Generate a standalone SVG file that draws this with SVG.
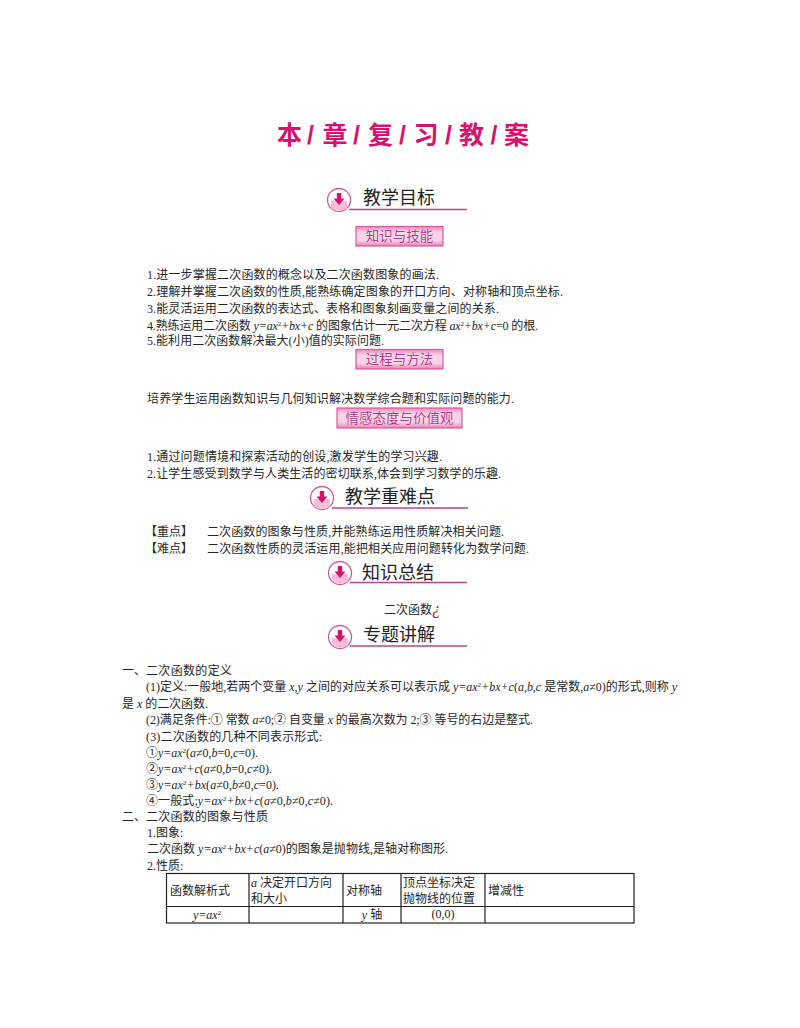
<svg xmlns="http://www.w3.org/2000/svg" xmlns:xlink="http://www.w3.org/1999/xlink" width="800" height="1028" viewBox="0 0 800 1028">
<style>
text{font-family:"Liberation Serif","Noto Sans CJK SC",serif;font-size:12px;fill:#262626}
.m{font-style:italic}
.title{font-family:"Liberation Sans","Noto Sans CJK SC",sans-serif;font-size:25px;font-weight:700;fill:#d6126f}
.head{font-family:"Noto Sans CJK SC",sans-serif;font-size:18px;fill:#222}
.tag{font-family:"Noto Sans CJK SC",sans-serif;font-size:13.500px;fill:#b8368a;text-anchor:middle;stroke:#fff;stroke-width:.4px;paint-order:stroke}
.tagbox{fill:url(#tagfill);stroke:#d85aa0;stroke-width:1.200}
.rule{stroke:#c2408c;stroke-width:1.500;fill:none}
.cell{stroke:#222;stroke-width:1.200;fill:none}
.c{text-anchor:middle}
.red{fill:#c0202a;font-size:17px;font-style:italic}
</style>
<defs>
<linearGradient id="tagfill" x1="0" y1="0" x2="0" y2="1">
<stop offset="0" stop-color="#f088bc"/><stop offset=".3" stop-color="#fbd3e6"/><stop offset=".7" stop-color="#fbd3e6"/><stop offset="1" stop-color="#ec80b6"/>
</linearGradient>
<g id="badge">
<circle r="11.500" fill="#fff" stroke="#d05a9c" stroke-width="1.300"/>
<path d="M-8 1H8V8.500Q0 12 -8 8.500Z" fill="#f7bcd8"/>
<path d="M-2.200 -7H2.200V-1.500H5.500L0 5L-5.500 -1.500H-2.200Z" fill="#d6126f"/>
</g>
</defs>

<g id="title">
<text class="title" x="277" y="144">本</text><text class="title" x="307" y="144">/</text>
<text class="title" x="322.500" y="144">章</text><text class="title" x="353" y="144">/</text>
<text class="title" x="368" y="144">复</text><text class="title" x="399" y="144">/</text>
<text class="title" x="413.500" y="144">习</text><text class="title" x="445" y="144">/</text>
<text class="title" x="459" y="144">教</text><text class="title" x="490.500" y="144">/</text>
<text class="title" x="504" y="144">案</text>
</g>

<g id="connectors">
<path class="rule" d="M349 209.500H467"/>
<path class="rule" d="M332 508H468"/>
<path class="rule" d="M350 582.500H467"/>
<path class="rule" d="M350 646H467"/>
</g>

<g id="head-goals"><use xlink:href="#badge" href="#badge" x="339" y="200"/><text class="head" x="363" y="204">教学目标</text></g>
<g id="head-key"><use xlink:href="#badge" href="#badge" x="322" y="498"/><text class="head" x="345" y="503">教学重难点</text></g>
<g id="head-summary"><use xlink:href="#badge" href="#badge" x="340" y="573"/><text class="head" x="362" y="579">知识总结</text></g>
<g id="head-topics"><use xlink:href="#badge" href="#badge" x="340" y="637"/><text class="head" x="363" y="641">专题讲解</text></g>

<g id="tag-knowledge"><rect class="tagbox" x="356" y="226.500" width="87" height="19.500"/><text class="tag" x="399.500" y="241">知识与技能</text></g>
<g id="tag-process"><rect class="tagbox" x="356" y="349.500" width="87" height="19.500"/><text class="tag" x="399.500" y="364">过程与方法</text></g>
<g id="tag-attitude"><rect class="tagbox" x="337" y="408" width="125" height="20"/><text class="tag" x="399.500" y="423">情感态度与价值观</text></g>

<g id="goals">
<text x="147" y="279" textLength="292">1.进一步掌握二次函数的概念以及二次函数图象的画法.</text>
<text x="147" y="296" textLength="416">2.理解并掌握二次函数的性质,能熟练确定图象的开口方向、对称轴和顶点坐标.</text>
<text x="147" y="313" textLength="352">3.能灵活运用二次函数的表达式、表格和图象刻画变量之间的关系.</text>
<text x="147" y="330" textLength="391">4.熟练运用二次函数 <tspan class="m">y=ax</tspan><tspan font-size="7" dy="-4">2</tspan><tspan class="m" dy="4">+bx+c</tspan> 的图象估计一元二次方程 <tspan class="m">ax</tspan><tspan font-size="7" dy="-4">2</tspan><tspan class="m" dy="4">+bx+c</tspan>=0 的根.</text>
<text x="147" y="345" textLength="237">5.能利用二次函数解决最大(小)值的实际问题.</text>
<text x="147" y="403" textLength="367">培养学生运用函数知识与几何知识解决数学综合题和实际问题的能力.</text>
<text x="147" y="461" textLength="295">1.通过问题情境和探索活动的创设,激发学生的学习兴趣.</text>
<text x="147" y="478" textLength="354">2.让学生感受到数学与人类生活的密切联系,体会到学习数学的乐趣.</text>
</g>

<g id="key">
<text x="145" y="536" textLength="48">【重点】</text><text x="207" y="536" textLength="297">二次函数的图象与性质,并能熟练运用性质解决相关问题.</text>
<text x="145" y="553" textLength="48">【难点】</text><text x="207" y="553" textLength="322">二次函数性质的灵活运用,能把相关应用问题转化为数学问题.</text>
</g>

<g id="summary"><text x="384" y="614">二次函数<tspan class="red">¿</tspan></text></g>

<g id="topics">
<text x="122" y="675">一、</text><text x="146" y="675" textLength="86">二次函数的定义</text>
<text x="146" y="691" textLength="531">(1)定义:一般地,若两个变量 <tspan class="m">x,y</tspan> 之间的对应关系可以表示成 <tspan class="m">y=ax</tspan><tspan font-size="7" dy="-4">2</tspan><tspan class="m" dy="4">+bx+c</tspan>(<tspan class="m">a,b,c</tspan> 是常数,<tspan class="m">a</tspan>≠0)的形式,则称 <tspan class="m">y</tspan></text>
<text x="122" y="708" textLength="86">是 <tspan class="m">x</tspan> 的二次函数.</text>
<text x="146" y="724" textLength="387">(2)满足条件:① 常数 <tspan class="m">a</tspan>≠0;② 自变量 <tspan class="m">x</tspan> 的最高次数为 2;③ 等号的右边是整式.</text>
<text x="146" y="741" textLength="176">(3)二次函数的几种不同表示形式:</text>
<text x="146" y="757" textLength="112">①<tspan class="m">y=ax</tspan><tspan font-size="7" dy="-4">2</tspan><tspan dy="4">(</tspan><tspan class="m">a</tspan>≠0,<tspan class="m">b</tspan>=0,<tspan class="m">c</tspan>=0).</text>
<text x="146" y="773" textLength="126">②<tspan class="m">y=ax</tspan><tspan font-size="7" dy="-4">2</tspan><tspan class="m" dy="4">+c</tspan>(<tspan class="m">a</tspan>≠0,<tspan class="m">b</tspan>=0,<tspan class="m">c</tspan>≠0).</text>
<text x="146" y="789" textLength="133">③<tspan class="m">y=ax</tspan><tspan font-size="7" dy="-4">2</tspan><tspan class="m" dy="4">+bx</tspan>(<tspan class="m">a</tspan>≠0,<tspan class="m">b</tspan>≠0,<tspan class="m">c</tspan>=0).</text>
<text x="146" y="805" textLength="187">④一般式;<tspan class="m">y=ax</tspan><tspan font-size="7" dy="-4">2</tspan><tspan class="m" dy="4">+bx+c</tspan>(<tspan class="m">a</tspan>≠0,<tspan class="m">b</tspan>≠0,<tspan class="m">c</tspan>≠0).</text>
<text x="122" y="821">二、</text><text x="146" y="821" textLength="122">二次函数的图象与性质</text>
<text x="147" y="837">1.图象:</text>
<text x="147" y="853" textLength="301">二次函数 <tspan class="m">y=ax</tspan><tspan font-size="7" dy="-4">2</tspan><tspan class="m" dy="4">+bx+c</tspan>(<tspan class="m">a</tspan>≠0)的图象是抛物线,是轴对称图形.</text>
<text x="147" y="870">2.性质:</text>
</g>

<g id="table">
<rect class="cell" x="166.500" y="873.500" width="467.500" height="49.500"/>
<path class="cell" d="M166.500 906.500H634M249 873.500V923M343 873.500V923M401 873.500V923M485 873.500V923"/>
<text x="170" y="895">函数解析式</text>
<text x="251" y="887"><tspan class="m">a</tspan> 决定开口方向</text>
<text x="251" y="903">和大小</text>
<text x="346" y="895">对称轴</text>
<text x="403" y="887">顶点坐标决定</text>
<text x="403" y="903">抛物线的位置</text>
<text x="488" y="895">增减性</text>
<text class="c" x="207" y="919"><tspan class="m">y=ax</tspan><tspan font-size="7" dy="-4">2</tspan></text>
<text class="c" x="372" y="919"><tspan class="m">y</tspan> 轴</text>
<text class="c" x="443" y="918">(0,0)</text>
</g>
</svg>
